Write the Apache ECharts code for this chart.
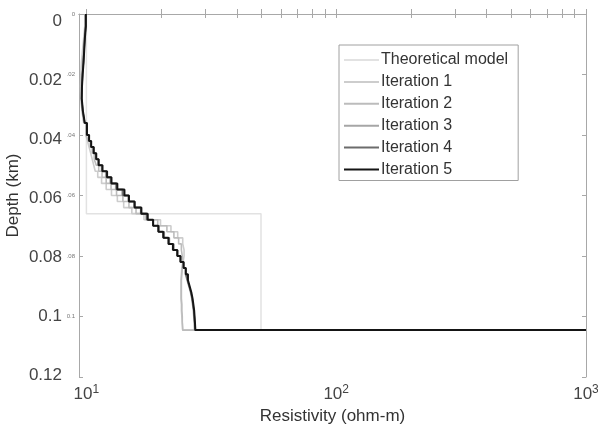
<!DOCTYPE html>
<html>
<head>
<meta charset="utf-8">
<script src="https://cdn.jsdelivr.net/npm/echarts@6/dist/echarts.min.js"></script>
<style>html,body{margin:0;padding:0;background:#fff}#c{width:598px;height:432px}</style>
</head>
<body>
<div id="c"></div>
<script>
// ---- data ----
const seriesNames = ['Theoretical model','Iteration 1','Iteration 2','Iteration 3','Iteration 4','Iteration 5'];
const modelDepths = [0, 0.066, 0.1045];
const modelRes = [10, 50, 1000];
const layerDepths = [0,0.004,0.008,0.012,0.016,0.020,0.024,0.028,0.032,0.036,
  0.040,0.042,0.044,0.046,0.048,0.050,0.052,0.054,0.056,0.058,
  0.060,0.062,0.064,0.066,0.068,0.070,0.072,0.074,0.076,0.078,
  0.080,0.082,0.084,0.086,0.088,0.090,0.092,0.094,0.096,0.098,
  0.100,0.102,0.1045];
const iter1 = [9.85,9.75,9.65,9.55,9.5,9.48,9.5,9.6,9.75,9.95,
  10.1,10.25,10.4,10.55,10.7,10.85,11.1,11.5,12.0,12.6,
  13.3,14.1,15.2,17.0,19.8,21.8,23.2,24.3,24.6,24.6,
  24.4,24.1,24.0,23.9,23.9,23.9,23.9,24.0,24.0,24.1,
  24.2,24.3,1000];
const iter2 = [9.9,9.8,9.72,9.64,9.58,9.54,9.54,9.62,9.78,9.98,
  10.15,10.35,10.55,10.75,10.95,11.2,11.55,12.0,12.55,13.2,
  14.0,14.8,15.8,17.3,19.3,21.0,22.4,23.4,24.0,24.2,
  24.3,24.2,24.1,24.0,24.0,24.0,24.0,24.1,24.1,24.2,
  24.2,24.3,1000];
const iter3 = [9.93,9.84,9.78,9.72,9.64,9.59,9.57,9.66,9.83,10.03,
  10.22,10.42,10.66,10.9,11.15,11.5,11.95,12.45,13.1,13.9,
  14.7,15.5,16.5,17.5,18.5,19.5,20.5,21.5,22.4,23.2,
  23.8,24.4,24.9,25.3,25.7,26.1,26.4,26.6,26.8,26.9,
  27.0,27.1,1000];
const iter4 = [9.94,9.85,9.79,9.73,9.65,9.6,9.58,9.67,9.84,10.04,
  10.24,10.44,10.68,10.93,11.18,11.55,12.05,12.55,13.2,14.0,
  14.8,15.6,16.5,17.45,18.45,19.45,20.4,21.4,22.3,23.15,
  23.8,24.5,25.0,25.4,25.8,26.2,26.5,26.7,26.9,27.05,
  27.15,27.25,1000];
const iter5 = [9.95,9.86,9.8,9.74,9.66,9.6,9.58,9.68,9.85,10.05,
  10.25,10.45,10.7,10.95,11.2,11.6,12.1,12.6,13.3,14.2,
  14.8,15.6,16.6,17.6,18.5,19.4,20.3,21.3,22.2,23.1,
  23.8,24.5,25.0,25.5,25.9,26.3,26.6,26.8,27.0,27.1,
  27.2,27.3,1000];
const yTickValues = [0,0.02,0.04,0.06,0.08,0.1,0.12];
const yTickLabels = ['0','0.02','0.04','0.06','0.08','0.1','0.12'];
const ySmallLabels = ['0','.02','.04','.06','.08','0.1',''];
const xMajorTicks = [10,100,1000];
const xMinorTicks = [20,30,40,50,60,70,80,90,200,300,400,500,600,700,800,900];

// ---- build ----
const FONT = 'Liberation Sans, Arial, Helvetica, sans-serif';
function pairs(res, dep){ return res.map((r,i)=>[r, dep[i]]); }
const resSets = [modelRes, iter1, iter2, iter3, iter4, iter5];
const depSets = [modelDepths, layerDepths, layerDepths, layerDepths, layerDepths, layerDepths];
const colors = ['#e2e2e2','#cdcdcd','#bcbcbc','#a6a6a6','#6c6c6c','#151515'];
const widths = [1.5,1.6,1.6,1.6,1.6,2];

const chart = echarts.init(document.getElementById('c'), null, {renderer:'canvas'});
const axisLineStyle = {color:'#a8a8a8', width:1};
function xFmt(v){
  const e = Math.round(Math.log10(v));
  if (Math.abs(Math.pow(10,e) - v) > 1e-6*v) return '';
  return '{b|10}{s|' + e + '}';
}
const xRich = {
  b:{fontSize:17, fontFamily:FONT, color:'#444', verticalAlign:'bottom'},
  s:{fontSize:12, fontFamily:FONT, color:'#444', verticalAlign:'top', padding:[0,0,7,0]}
};
const allXTicks = xMajorTicks.concat(xMinorTicks);
chart.setOption({
  animation:false,
  backgroundColor:'#fff',
  grid:{left:79, right:12, top:14, bottom:55, containLabel:false, outerBoundsMode:'none'},
  legend:{
    orient:'vertical', left:339, top:45,
    padding:[7,10,3,4], itemGap:5.9, itemWidth:35, itemHeight:14,
    borderColor:'#a0a0a0', borderWidth:1, backgroundColor:'#fff',
    itemStyle:{color:'transparent', borderWidth:0, opacity:0},
    textStyle:{fontSize:16, fontFamily:FONT, color:'#333', padding:[0,0,0,-3]},
    data:seriesNames
  },
  xAxis:[
    {type:'log', logBase:10, min:9.34, max:1000, position:'bottom',
     axisLine:{show:true, lineStyle:axisLineStyle},
     axisTick:{show:true, inside:true, length:5, customValues:allXTicks, lineStyle:axisLineStyle},
     axisLabel:{show:true, margin:7, formatter:xFmt, rich:xRich, customValues:xMajorTicks},
     splitLine:{show:false}, minorTick:{show:false},
     name:'Resistivity (ohm-m)', nameLocation:'middle', nameGap:31,
     nameTextStyle:{fontSize:17, fontFamily:FONT, color:'#333'}},
    {type:'log', logBase:10, min:9.34, max:1000, position:'top',
     axisLine:{show:true, lineStyle:axisLineStyle},
     axisTick:{show:true, inside:true, length:4, customValues:allXTicks, lineStyle:axisLineStyle},
     axisLabel:{show:false}, splitLine:{show:false}}
  ],
  yAxis:[
    {type:'value', inverse:true, min:0, max:0.12, interval:0.02, position:'left',
     axisLine:{show:true, lineStyle:axisLineStyle},
     axisTick:{show:true, inside:true, length:4, lineStyle:axisLineStyle},
     axisLabel:{show:true, margin:4, fontSize:6, fontFamily:FONT, color:'#777',
       formatter:v=>ySmallLabels[Math.round(v/0.02)]},
     splitLine:{show:false},
     name:'Depth (km)', nameLocation:'middle', nameGap:57, nameRotate:90,
     nameTextStyle:{fontSize:17, fontFamily:FONT, color:'#333'}},
    {type:'value', inverse:true, min:0, max:0.12, interval:0.02, position:'right',
     axisLine:{show:true, lineStyle:axisLineStyle},
     axisTick:{show:true, inside:true, length:4, lineStyle:axisLineStyle},
     axisLabel:{show:false}, splitLine:{show:false}},
    {type:'value', inverse:true, min:-0.00237, max:0.120507, position:'left', offset:0,
     axisLine:{show:false}, axisTick:{show:false},
     axisLabel:{margin:17, fontSize:17, fontFamily:FONT, color:'#444',
       customValues:yTickValues,
       formatter:v=>yTickLabels[Math.round(v/0.02)]},
     splitLine:{show:false}}
  ],
  series: seriesNames.map((n,i)=>({
    name:n, type:'line', xAxisIndex:0, yAxisIndex:0,
    step:'start', symbol:'none', showSymbol:false,
    data: pairs(resSets[i], depSets[i]),
    lineStyle:{color:colors[i], width:widths[i]},
    itemStyle:{color:colors[i]},
    z: 2+i
  }))
});
</script>
</body>
</html>
